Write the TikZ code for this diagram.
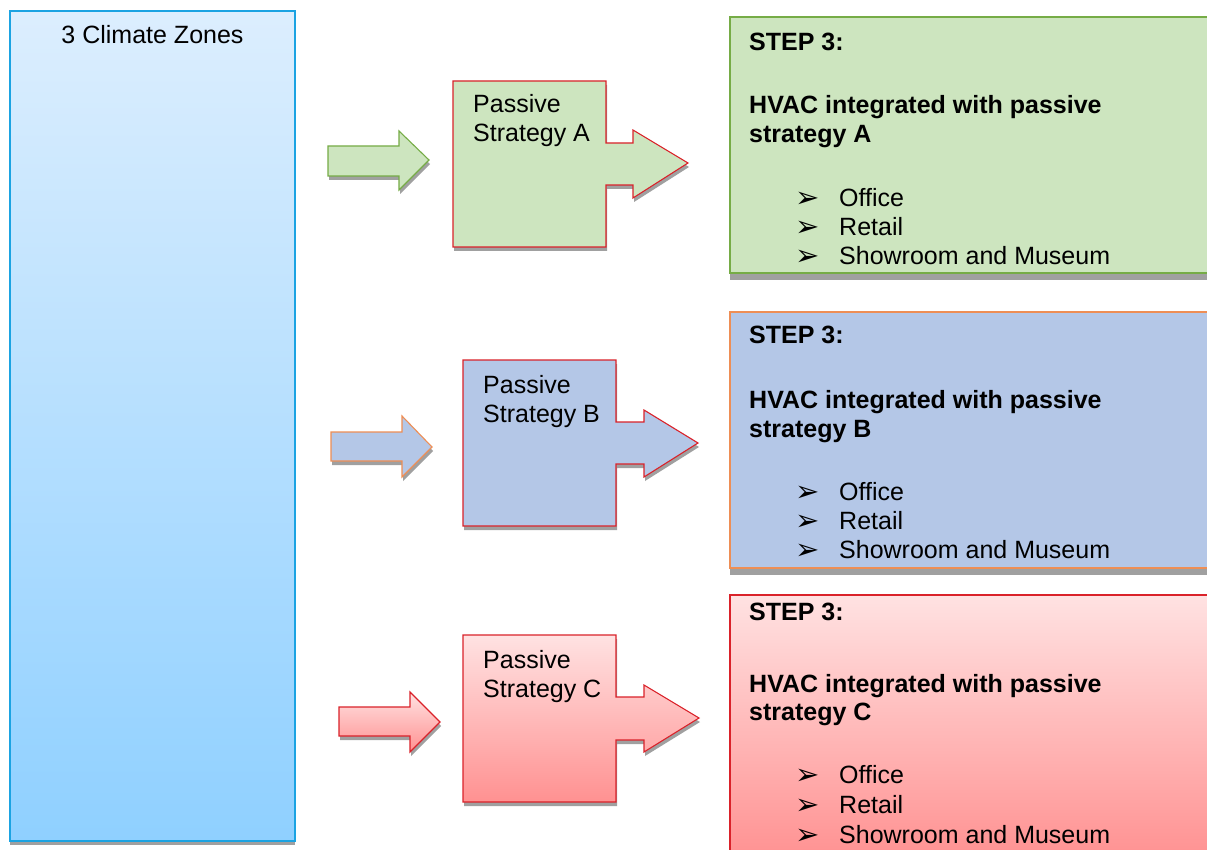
\documentclass[tikz,border=0pt]{standalone}
\usepackage{fontspec}
\setmainfont{Liberation Sans}
\newfontfamily\symfont{DejaVu Sans}
\definecolor{zonetop}{RGB}{220,238,254}
\definecolor{zonebot}{RGB}{143,208,255}
\definecolor{zoneedge}{RGB}{27,163,226}
\definecolor{grfill}{RGB}{205,229,191}
\definecolor{gredge}{RGB}{118,172,70}
\definecolor{blfill}{RGB}{180,199,231}
\definecolor{bledge}{RGB}{238,142,85}
\definecolor{rdtop}{RGB}{255,226,226}
\definecolor{rdbot}{RGB}{255,145,145}
\definecolor{rdedge}{RGB}{218,34,42}
\definecolor{shadowgray}{RGB}{160,160,160}
\begin{document}
\begin{tikzpicture}[x=1pt,y=-1pt,
  shadowfill/.style={fill=shadowgray,draw=none},
  edge/.style={line width=1.1pt,line join=miter},
  txt/.style={anchor=base west,inner sep=0pt,font=\fontsize{25}{29}\selectfont},
  btxt/.style={anchor=base west,inner sep=0pt,font=\fontsize{25}{29}\selectfont\bfseries},
  bul/.style={anchor=base west,inner sep=0pt,font=\fontsize{29}{29}\selectfont\symfont}]
\useasboundingbox (0,0) rectangle (1207,850);
\clip (0,0) rectangle (1207,850);
\fill[white] (0,0) rectangle (1207,850);

% climate zones box
\fill[shadowfill] (10,15) rectangle (295,845);
\shade[top color=zonetop,bottom color=zonebot] (10,11) rectangle (295,841);
\draw[edge,zoneedge] (10,11) rectangle (295,841);
\node[anchor=base,inner sep=0pt,font=\fontsize{25}{29}\selectfont] (zones) at (152.5,44) {3 Climate Zones};

% ---------- Row A ----------
\def\smallA{(328,146) -- (399,146) -- (399,131) -- (429,160) -- (399,190) -- (399,176) -- (328,176) -- cycle}
\def\passA{(453,81) -- (606,81) -- (606,143) -- (633,143) -- (633,130) -- (688,163) -- (633,198) -- (633,185) -- (606,185) -- (606,247) -- (453,247) -- cycle}
\fill[shadowfill,shift={(1,4)}] \smallA;
\fill[grfill,draw=gredge,edge] \smallA;
\fill[shadowfill,shift={(1,4)}] \passA;
\fill[grfill,draw=rdedge,edge] \passA;
\node[txt] (pa1) at (473,113) {Passive};
\node[txt] (pa2) at (473,142) {Strategy A};
\fill[shadowfill] (730,23) rectangle (1215,280);
\fill[grfill,draw=gredge,edge] (730,17) rectangle (1215,273);
\node[btxt] (sa) at (749,51) {STEP 3:};
\node[btxt] (ha) at (749,114) {HVAC integrated with passive};
\node[btxt] (ha2) at (749,143) {strategy A};
\node[bul] (ba1) at (795,208) {➢};
\node[bul] (ba2) at (795,237) {➢};
\node[bul] (ba3) at (795,266) {➢};
\node[txt] (ia1) at (839,207) {Office};
\node[txt] (ia2) at (839,236) {Retail};
\node[txt] (ia3) at (839,265) {Showroom and Museum};

% ---------- Row B ----------
\def\smallB{(331,432) -- (402,432) -- (402,416) -- (432,447) -- (402,477) -- (402,461) -- (331,461) -- cycle}
\def\passB{(463,360) -- (616,360) -- (616,422) -- (644,422) -- (644,410) -- (698,443) -- (644,477) -- (644,464) -- (616,464) -- (616,526) -- (463,526) -- cycle}
\fill[shadowfill,shift={(1,4)}] \smallB;
\fill[blfill,draw=bledge,edge] \smallB;
\fill[shadowfill,shift={(1,4)}] \passB;
\fill[blfill,draw=rdedge,edge] \passB;
\node[txt] (pb1) at (483,393) {Passive};
\node[txt] (pb2) at (483,422) {Strategy B};
\fill[shadowfill] (730,318) rectangle (1215,575);
\fill[blfill,draw=bledge,edge] (730,312) rectangle (1215,568);
\node[btxt] (sb) at (749,343) {STEP 3:};
\node[btxt] (hb) at (749,408) {HVAC integrated with passive};
\node[btxt] (hb2) at (749,437) {strategy B};
\node[bul] (bb1) at (795,501) {➢};
\node[bul] (bb2) at (795,530) {➢};
\node[bul] (bb3) at (795,559) {➢};
\node[txt] (ib1) at (839,500) {Office};
\node[txt] (ib2) at (839,529) {Retail};
\node[txt] (ib3) at (839,558) {Showroom and Museum};

% ---------- Row C ----------
\def\smallC{(339,707) -- (410,707) -- (410,692) -- (440,722) -- (410,752) -- (410,736) -- (339,736) -- cycle}
\def\passC{(463,635) -- (616,635) -- (616,697) -- (644,697) -- (644,685) -- (699,718) -- (644,752) -- (644,740) -- (616,740) -- (616,802) -- (463,802) -- cycle}
\fill[shadowfill,shift={(1,4)}] \smallC;
\shade[top color=rdtop,bottom color=rdbot] \smallC;
\draw[rdedge,edge] \smallC;
\fill[shadowfill,shift={(1,4)}] \passC;
\shade[top color=rdtop,bottom color=rdbot] \passC;
\draw[rdedge,edge] \passC;
\node[txt] (pc1) at (483,668) {Passive};
\node[txt] (pc2) at (483,697) {Strategy C};
\shade[top color=rdtop,bottom color=rdbot] (730,595) rectangle (1215,860);
\draw[rdedge,edge] (730,595) rectangle (1215,860);
\node[btxt] (sc) at (749,620) {STEP 3:};
\node[btxt] (hc) at (749,692) {HVAC integrated with passive};
\node[btxt] (hc2) at (749,720) {strategy C};
\node[bul] (bc1) at (795,784) {➢};
\node[bul] (bc2) at (795,814) {➢};
\node[bul] (bc3) at (795,844) {➢};
\node[txt] (ic1) at (839,783) {Office};
\node[txt] (ic2) at (839,813) {Retail};
\node[txt] (ic3) at (839,843) {Showroom and Museum};
\end{tikzpicture}
\end{document}
